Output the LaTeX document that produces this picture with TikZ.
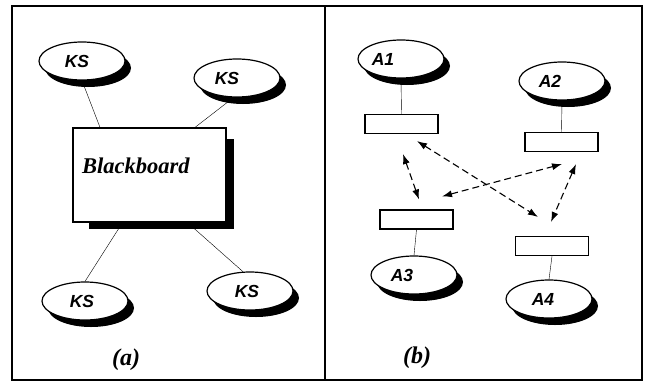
\documentclass[tikz,border=0pt]{standalone}
\usepackage{fontspec}
\setmainfont{Liberation Serif}
\setsansfont{Liberation Sans}
\usetikzlibrary{shapes.geometric,shadows,arrows.meta,backgrounds}
\tikzstyle{ks}=[
        ellipse,
        draw = black,
        line width = 1.2pt,
        fill = white,
        minimum width = 86pt,
        minimum height = 38pt,
        inner sep = 0pt,
        font = {\sffamily\bfseries\itshape\fontsize{17.5}{17.5}\selectfont},
        drop shadow = {shadow xshift=6pt, shadow yshift=-7pt, fill=black, opacity=1}
    ]
\tikzstyle{board}=[
    rectangle,
    draw = black,
    line width = 1.2pt,
    fill = white,
    minimum width = 153pt,
    minimum height = 94pt,
    drop shadow = {shadow xshift=12.5pt, shadow yshift=-9.5pt, shadow scale=0.95, fill=black, opacity=1}
]
\tikzstyle{boardtext}=[
    inner sep = 0pt,
    font = {\bfseries\itshape\fontsize{22.5}{22.5}\selectfont}
]
\tikzstyle{port}=[
    rectangle,
    draw = black,
    line width = 1.1pt,
    fill = white,
    minimum width = 73pt,
    minimum height = 19pt,
    inner sep = 0pt
]
\tikzstyle{msg}=[
    line width = 1.1pt,
    dash pattern = on 7pt off 4pt,
    {Latex[length=10pt,width=7pt]}-{Latex[length=10pt,width=7pt]}
]
\tikzstyle{caption}=[
    font = {\bfseries\itshape\fontsize{24}{24}\selectfont}
]

\begin{document}
\begin{tikzpicture}[x=1pt, y=-1pt, line width=1.2pt]
        \useasboundingbox (0,0) rectangle (647,381);
        \draw[line width=1.6pt] (12,6) rectangle (642,380);
        \draw[line width=1.6pt] (325,6) -- (325,380);

        % (a) blackboard and knowledge sources
        \node[board] (bb) at (149.5,175) {};
        \node[boardtext, anchor=base west] (bbtext) at ([shift={(9,46)}]bb.north west) {Blackboard};
        \node[ks] (ks1) at (82,61) {KS\hspace*{10pt}};
        \node[ks] (ks2) at (237,78) {KS\hspace*{20pt}};
        \node[ks] (ks3) at (85,301) {KS\hspace*{6pt}};
        \node[ks] (ks4) at (250,291) {KS\hspace*{6pt}};
        \node[caption] (capa) at (126,360) {(a)};

        % (b) agents with their ports
        \node[ks] (a1) at (401,59) {A1\hspace*{36pt}};
        \node[ks] (a2) at (562,81) {A2\hspace*{24pt}};
        \node[ks] (a3) at (414,275) {A3\hspace*{24pt}};
        \node[ks] (a4) at (549,299) {A4\hspace*{12pt}};
        \node[port] (p1) at (401.5,124) {};
        \node[port] (p2) at (561.5,142) {};
        \node[port] (p3) at (416.5,219.5) {};
        \node[port] (p4) at (552,246) {};
        \node[caption] (capb) at (417,358) {(b)};

        \begin{scope}[on background layer]
            \draw (ks1.south) -- ([xshift=-49.5pt]bb.north);
            \draw (ks2.-100) -- ([xshift=45.5pt]bb.north);
            \draw ([xshift=-27pt]bb.south) -- (ks3.north);
            \draw ([xshift=38pt]bb.south) -- (ks4.110);

            \draw (a1.south) -- (p1.north);
            \draw (a2.south) -- (p2.north);
            \draw (p3.south) -- (a3.north);
            \draw (p4.south) -- (a4.north);
        \end{scope}

        \draw[msg] ([shift={(1.5,20)}]p1.south) -- ([shift={(2.5,-10)}]p3.north);
        \draw[msg] ([shift={(15.5,7)}]p1.south) -- ([shift={(-14,-19)}]p4.north);
        \draw[msg] ([shift={(25.5,-13)}]p3.north) -- ([shift={(0.5,12)}]p2.south);
        \draw[msg] ([shift={(14.5,12)}]p2.south) -- ([shift={(-1,-14)}]p4.north);

    \end{tikzpicture}
\end{document}
